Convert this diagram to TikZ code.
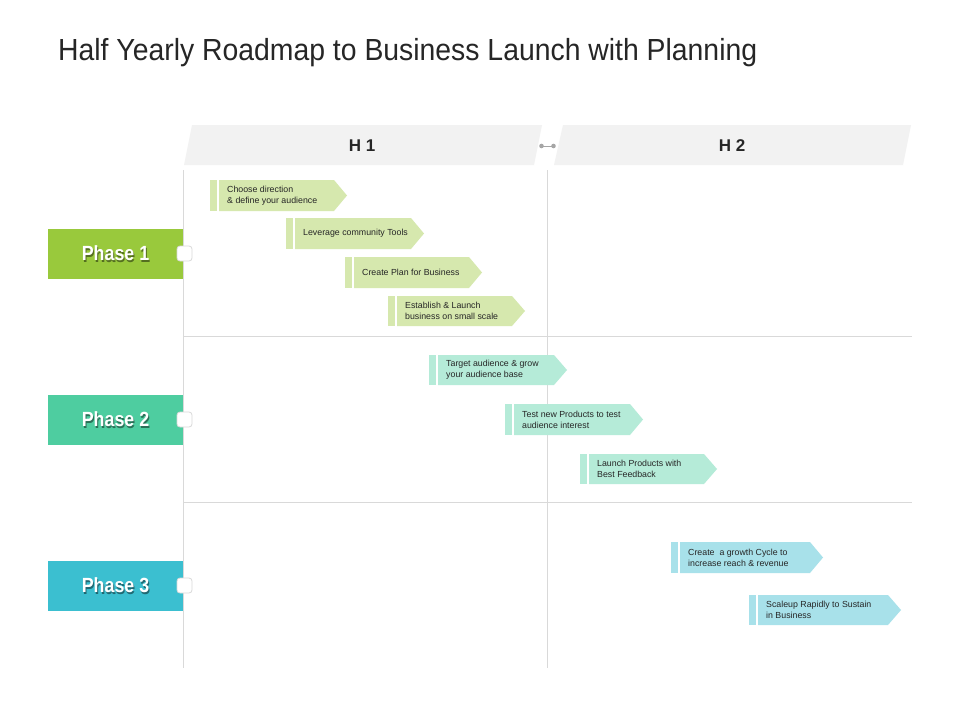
\documentclass[tikz,border=0pt]{standalone}
\usepackage{fontspec}
\setmainfont{Liberation Sans}
\begin{document}
\begin{tikzpicture}[x=1pt,y=-1pt]
\definecolor{gridc}{HTML}{D9D9D9}
\definecolor{headc}{HTML}{F2F2F2}
\definecolor{pone}{HTML}{99C93C}
\definecolor{ptwo}{HTML}{4ECDA0}
\definecolor{pthree}{HTML}{3BBFD0}
\definecolor{lone}{HTML}{D6E8AE}
\definecolor{ltwo}{HTML}{B5EBD8}
\definecolor{lthree}{HTML}{A8E1EA}
\definecolor{txtc}{HTML}{262626}
\tikzset{
  gridline/.style={draw=gridc, line width=0.9pt},
  headbox/.style={fill=headc},
  headtxt/.style={font=\fontsize{17}{20}\selectfont\bfseries, text=txtc, inner sep=0pt},
  phasebox/.style={inner sep=0pt, minimum width=135pt, minimum height=50pt},
  phasetxt/.style={font=\fontsize{20.5}{22}\selectfont\bfseries, text=white, inner sep=0pt, xscale=0.87},
  phaseshadow/.style={font=\fontsize{20.5}{22}\selectfont\bfseries, text=black, opacity=0.45, inner sep=0pt, xscale=0.87},
  knob/.style={draw=gridc, fill=white, rounded corners=3pt, minimum size=15pt, inner sep=0pt, line width=0.8pt},
  arrtxt/.style={font=\fontsize{8.8}{11}\selectfont, text=txtc, align=left, anchor=west, inner sep=0pt},
}
\newcommand{\roadarrow}[7]{%
  \pgfmathsetmacro{\ax}{#2}\pgfmathsetmacro{\bx}{#3}%
  \pgfmathsetmacro{\ay}{#4}\pgfmathsetmacro{\by}{#5}%
  \pgfmathsetmacro{\my}{(#4+#5)/2}%
  \fill[#6] (\ax,\ay) rectangle (\ax+7,\by);
  \fill[#6] (\ax+9,\ay) -- (\bx-13,\ay) -- (\bx,\my) -- (\bx-13,\by) -- (\ax+9,\by) -- cycle;
  \node[arrtxt] (#1) at (\ax+17,\my) {#7};
}
\useasboundingbox (0,0) rectangle (960,720);
\fill[white] (0,0) rectangle (960,720);
% title
\node[anchor=base west, inner sep=0pt, font=\fontsize{30.5}{34}\selectfont, text=txtc, xscale=0.93] (title) at (58,60) {Half Yearly Roadmap to Business Launch with Planning};
% headers
\fill[headbox] (184,165) -- (192,125) -- (542,125) -- (534,165) -- cycle;
\fill[headbox] (554,165) -- (563,125) -- (911,125) -- (903,165) -- cycle;
\node[headtxt] (h1) at (362,146) {H 1};
\node[headtxt] (h2) at (732,146) {H 2};
\coordinate (dl) at (541.5,146);
\coordinate (dr) at (553.5,146);
\draw[draw=gray!70, line width=0.8pt] (dl) -- (dr);
\fill[gray!70] (dl) circle (2.3);
\fill[gray!70] (dr) circle (2.3);
% grid
\draw[gridline] (183,170) -- (183,668);
\draw[gridline] (547.5,170) -- (547.5,668);
\draw[gridline] (183,336.5) -- (912,336.5);
\draw[gridline] (183,502.5) -- (912,502.5);
% phases
\node[phasebox, fill=pone] (p1) at (115.5,253.5) {};
\node[phasebox, fill=ptwo] (p2) at (115.5,419.5) {};
\node[phasebox, fill=pthree] (p3) at (115.5,585.5) {};
\foreach \n/\y in {1/253.5,2/419.5,3/585.5}{
  \node[phaseshadow] (ps\n) at (116.5,\y+1.2) {Phase \n};
  \node[phasetxt] (pt\n) at (115.5,\y) {Phase \n};
  \node[knob] (k\n) at (184.5,\y) {};
}
% arrows
\roadarrow{a1}{210}{347}{180}{211}{lone}{Choose direction\\\& define your audience}
\roadarrow{a2}{286}{424}{218}{249}{lone}{Leverage community Tools}
\roadarrow{a3}{345}{482}{257}{288}{lone}{Create Plan for Business}
\roadarrow{a4}{388}{525}{296}{326}{lone}{Establish \& Launch\\business on small scale}
\roadarrow{a5}{429}{567}{355}{385}{ltwo}{Target audience \& grow\\your audience base}
\roadarrow{a6}{505}{643}{404}{435}{ltwo}{Test new Products to test\\audience interest}
\roadarrow{a7}{580}{717}{454}{484}{ltwo}{Launch Products with\\Best Feedback}
\roadarrow{a8}{671}{823}{542}{573}{lthree}{Create \ a growth Cycle to\\increase reach \& revenue}
\roadarrow{a9}{749}{901}{595}{625}{lthree}{Scaleup Rapidly to Sustain\\in Business}
\end{tikzpicture}
\end{document}
